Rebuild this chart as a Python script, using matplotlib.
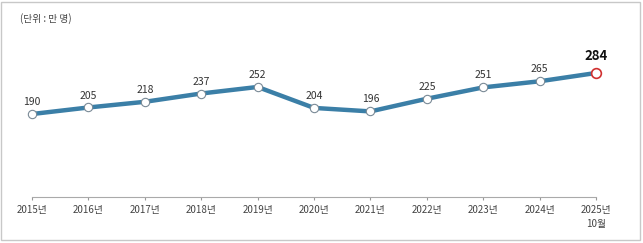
import matplotlib.pyplot as plt
from matplotlib.patches import Rectangle

plt.rcParams['font.family'] = ['Noto Sans CJK KR', 'DejaVu Sans']

# 연도별 값 (단위: 만 명)
years = ['2015년', '2016년', '2017년', '2018년', '2019년', '2020년',
         '2021년', '2022년', '2023년', '2024년', '2025년\n10월']
values = [190, 205, 218, 237, 252, 204, 196, 225, 251, 265, 284]

x = list(range(len(values)))

fig = plt.figure(figsize=(6.43, 2.43), dpi=100)
ax = fig.add_axes([32 / 643, 46 / 243, 564 / 643, 131 / 243])

ax.plot(x, values, color='#3b7fa7', linewidth=3.2, zorder=2, clip_on=False)
ax.plot(x[:-1], values[:-1], 'o', markersize=6, markerfacecolor='white',
        markeredgecolor='#7a8a96', markeredgewidth=0.8, zorder=3, clip_on=False)
ax.plot(x[-1], values[-1], 'o', markersize=7, markerfacecolor='white',
        markeredgecolor='#d03030', markeredgewidth=1.2, zorder=3, clip_on=False)

for i, v in enumerate(values):
    if i == len(values) - 1:
        ax.annotate(str(v), (i, v), xytext=(0, 7), textcoords='offset points',
                    ha='center', va='bottom', fontsize=9.5, fontweight='bold',
                    color='#111111')
    else:
        ax.annotate(str(v), (i, v), xytext=(0, 5), textcoords='offset points',
                    ha='center', va='bottom', fontsize=7.5, color='#333333')

ax.set_xlim(0, len(values) - 1)
ax.set_ylim(0, 300)
ax.set_xticks(x)
ax.set_xticklabels(years, fontsize=7, color='#444444', linespacing=1.5)
ax.tick_params(axis='x', length=2, color='#999999', pad=4)
ax.set_yticks([])
for s in ['top', 'right', 'left']:
    ax.spines[s].set_visible(False)
ax.spines['bottom'].set_color('#aaaaaa')
ax.spines['bottom'].set_linewidth(0.8)

fig.text(20 / 643, 1 - 19 / 243, '(단위 : 만 명)', fontsize=7, color='#444444',
         va='center', ha='left')

fig.patches.append(Rectangle((1 / 643, 3 / 243), 639 / 643, 238 / 243,
                             transform=fig.transFigure, fill=False,
                             edgecolor='#c8c8c8', linewidth=1))

fig.savefig('out.png', dpi=100)
